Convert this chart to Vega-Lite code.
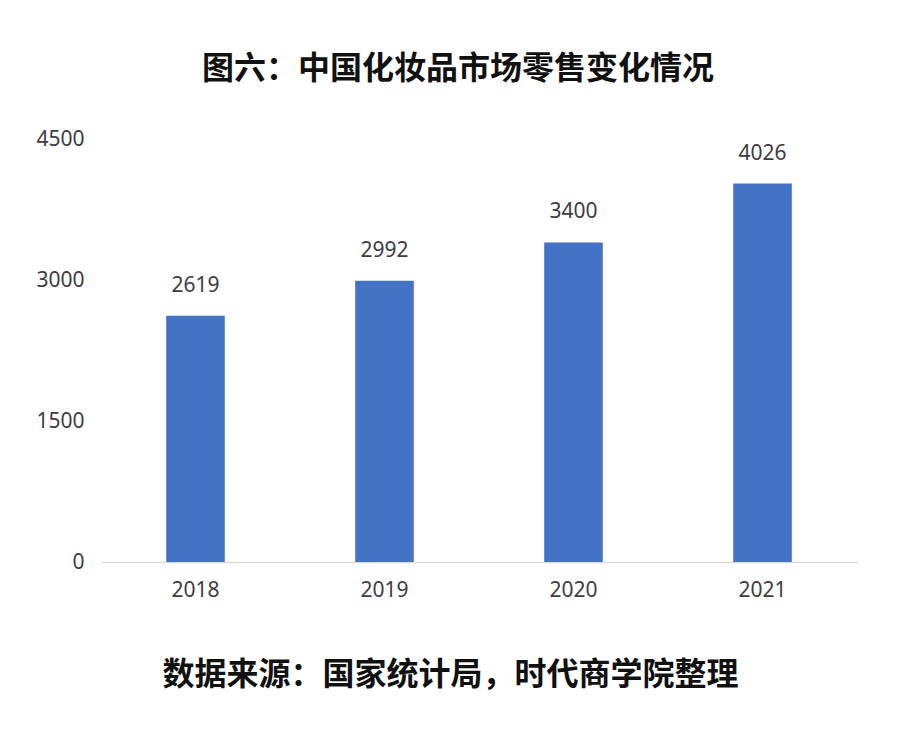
{
  "$schema": "https://vega.github.io/schema/vega-lite/v6.json",
  "width": 756,
  "height": 423,
  "autosize": "none",
  "padding": {"left": 101, "top": 139, "right": 63, "bottom": 182},
  "background": "white",
  "title": {
    "text": "图六：中国化妆品市场零售变化情况",
    "font": "Noto Sans CJK SC",
    "fontSize": 32,
    "fontWeight": "bold",
    "color": "#111111",
    "anchor": "middle",
    "dx": -21,
    "offset": 42
  },
  "data": {
    "values": [
      {"year": "2018", "sales": 2619},
      {"year": "2019", "sales": 2992},
      {"year": "2020", "sales": 3400},
      {"year": "2021", "sales": 4026}
    ]
  },
  "encoding": {
    "x": {
      "field": "year",
      "type": "ordinal",
      "scale": {"paddingInner": 0.69, "paddingOuter": 0.345},
      "axis": {
        "labelAngle": 0,
        "labelFont": "Noto Sans",
        "labelFontSize": 21,
        "labelColor": "#3f3b45",
        "labelPadding": 17,
        "ticks": false,
        "domainColor": "#d9d9d9",
        "domainWidth": 1.5,
        "title": "数据来源：国家统计局，时代商学院整理",
        "titleFont": "Noto Sans CJK SC",
        "titleFontSize": 32,
        "titleFontWeight": "bold",
        "titleColor": "#111111",
        "titlePadding": 59,
        "titleX": 349
      }
    },
    "y": {
      "field": "sales",
      "type": "quantitative",
      "scale": {"domain": [0, 4500]},
      "axis": {
        "values": [0, 1500, 3000, 4500],
        "format": "d",
        "labelFont": "Noto Sans",
        "labelFontSize": 21,
        "labelColor": "#3f3b45",
        "labelPadding": 17,
        "ticks": false,
        "domain": false,
        "grid": false,
        "title": null
      }
    }
  },
  "layer": [
    {
      "mark": {"type": "bar", "color": "#4472c4"}
    },
    {
      "mark": {
        "type": "text",
        "baseline": "bottom",
        "dy": -20,
        "font": "Noto Sans",
        "fontSize": 21,
        "color": "#3f3b45"
      },
      "encoding": {
        "text": {"field": "sales", "type": "quantitative", "format": "d"}
      }
    }
  ],
  "config": {"view": {"stroke": null}}
}
